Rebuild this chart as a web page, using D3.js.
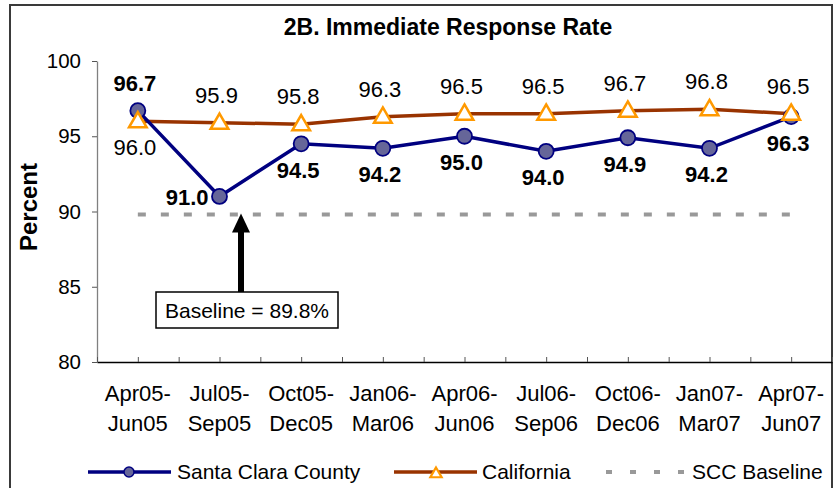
<!DOCTYPE html>
<html>
<head>
  <meta charset="utf-8">
  <title>2B. Immediate Response Rate</title>
  <style>
    body { margin: 0; background: #fff; }
    svg text { font-family: "Liberation Sans", Arial, sans-serif; }
  </style>
</head>
<body>
  <div id="chart"></div>

  <script src="https://d3js.org/d3.v7.min.js"></script>
  <script>
    // data
    var periodStart = ["Apr05-", "Jul05-", "Oct05-", "Jan06-", "Apr06-", "Jul06-", "Oct06-", "Jan07-", "Apr07-"];
    var periodEnd   = ["Jun05", "Sep05", "Dec05", "Mar06", "Jun06", "Sep06", "Dec06", "Mar07", "Jun07"];
    var sccValues = [96.7, 91.0, 94.5, 94.2, 95.0, 94.0, 94.9, 94.2, 96.3];
    var caValues  = [96.0, 95.9, 95.8, 96.3, 96.5, 96.5, 96.7, 96.8, 96.5];
    var sccBaseline = 89.8;
    var yTicks = [80, 85, 90, 95, 100];

    // where each data label sits relative to its marker
    var sccLabelPos = ["above", "left", "below", "below", "below", "below", "below", "below", "below"];
    var caLabelPos  = ["below", "above", "above", "above", "above", "above", "above", "above", "above"];

    var W = 835, H = 488;
    var plot = {left: 97, right: 832, top: 61, bottom: 362};

    var svg = d3.select("#chart").append("svg")
        .attr("width", W)
        .attr("height", H);

    svg.append("rect")
        .attr("width", W).attr("height", H)
        .attr("fill", "#fff");

    // outer frame of the chart
    svg.append("rect")
        .attr("x", 10).attr("y", 5)
        .attr("width", 822).attr("height", 500)
        .attr("fill", "none")
        .attr("stroke", "#3a3a3a")
        .attr("stroke-width", 2);

    var x = d3.scaleLinear()
        .domain([-0.5, periodStart.length - 0.5])
        .range([plot.left, plot.right]);

    var y = d3.scaleLinear()
        .domain([80, 100])
        .range([plot.bottom, plot.top]);

    // title
    svg.append("text")
        .attr("x", 448).attr("y", 35)
        .attr("text-anchor", "middle")
        .attr("font-size", 23)
        .attr("font-weight", "bold")
        .text("2B. Immediate Response Rate");

    // y axis title
    svg.append("text")
        .attr("transform", "translate(37,207) rotate(-90)")
        .attr("text-anchor", "middle")
        .attr("font-size", 24)
        .attr("font-weight", "bold")
        .text("Percent");

    // y axis
    var yAxis = svg.append("g")
        .attr("transform", "translate(" + plot.left + ",0)")
        .call(d3.axisLeft(y).tickValues(yTicks).tickSize(5).tickPadding(11).tickSizeOuter(0));
    yAxis.select(".domain").attr("stroke", "#808080").attr("stroke-width", 1.3);
    yAxis.selectAll(".tick line").attr("stroke", "#555");
    yAxis.selectAll(".tick text")
        .attr("font-size", 20.5)
        .attr("fill", "#000")
        .style("font-family", "'Liberation Sans', Arial, sans-serif");

    // x axis: ticks at every half category, pointing up
    var xAxis = svg.append("g")
        .attr("transform", "translate(0," + plot.bottom + ")")
        .call(d3.axisBottom(x).tickValues(d3.range(-0.5, periodStart.length, 0.5)).tickSize(-5).tickSizeOuter(0).tickFormat(""));
    xAxis.select(".domain").attr("stroke", "#000").attr("stroke-width", 1.5);
    xAxis.selectAll(".tick line").attr("stroke", "#555");

    var xLabels = svg.append("g").selectAll("text")
        .data(periodStart)
        .enter().append("text")
        .attr("text-anchor", "middle")
        .attr("font-size", 22)
        .attr("fill", "#000");
    xLabels.append("tspan")
        .attr("x", function(d, i) { return x(i); })
        .attr("y", 401)
        .text(function(d) { return d; });
    xLabels.append("tspan")
        .attr("x", function(d, i) { return x(i); })
        .attr("y", 431)
        .text(function(d, i) { return periodEnd[i]; });

    // baseline (dashed)
    svg.append("line")
        .attr("x1", x(0)).attr("x2", x(periodStart.length - 1))
        .attr("y1", y(sccBaseline)).attr("y2", y(sccBaseline))
        .attr("stroke", "#999")
        .attr("stroke-width", 4)
        .attr("stroke-dasharray", "8,15");

    // arrow pointing at the baseline
    var arrowX = 241;
    svg.append("line")
        .attr("x1", arrowX).attr("x2", arrowX)
        .attr("y1", y(sccBaseline) + 16).attr("y2", 292)
        .attr("stroke", "#000")
        .attr("stroke-width", 6);
    svg.append("path")
        .attr("d", "M" + arrowX + "," + (y(sccBaseline) - 1) +
                   " L" + (arrowX - 9) + "," + (y(sccBaseline) + 18) +
                   " L" + (arrowX + 9) + "," + (y(sccBaseline) + 18) + " Z")
        .attr("fill", "#000");

    svg.append("rect")
        .attr("x", 156).attr("y", 292)
        .attr("width", 182).attr("height", 36)
        .attr("fill", "#fff")
        .attr("stroke", "#000")
        .attr("stroke-width", 1.5);
    svg.append("text")
        .attr("x", 247).attr("y", 318)
        .attr("text-anchor", "middle")
        .attr("font-size", 21)
        .text("Baseline = " + sccBaseline.toFixed(1) + "%");

    // lines
    var line = d3.line()
        .x(function(d, i) { return x(i); })
        .y(function(d) { return y(d); });

    svg.append("path")
        .datum(caValues)
        .attr("d", line)
        .attr("fill", "none")
        .attr("stroke", "#993300")
        .attr("stroke-width", 3.5);

    svg.append("path")
        .datum(sccValues)
        .attr("d", line)
        .attr("fill", "none")
        .attr("stroke", "#000080")
        .attr("stroke-width", 3.5);

    // markers
    svg.append("g").selectAll("circle")
        .data(sccValues)
        .enter().append("circle")
        .attr("cx", function(d, i) { return x(i); })
        .attr("cy", function(d) { return y(d); })
        .attr("r", 7.5)
        .attr("fill", "#666699")
        .attr("stroke", "#000080")
        .attr("stroke-width", 1.8);

    var tri = d3.symbol().type(d3.symbolTriangle).size(135);
    svg.append("g").selectAll("path")
        .data(caValues)
        .enter().append("path")
        .attr("d", tri)
        .attr("transform", function(d, i) { return "translate(" + x(i) + "," + (y(d) + 1) + ")"; })
        .attr("fill", "#fff")
        .attr("stroke", "#ff9900")
        .attr("stroke-width", 2.5);

    // data labels
    function placeLabel(sel, values, pos) {
      sel.attr("x", function(d, i) {
            if (pos[i] === "left") return x(i) - 11;
            return x(i) - 3;
          })
          .attr("y", function(d, i) {
            var p = y(d);
            if (pos[i] === "above") return p - 20;
            if (pos[i] === "below") return p + 34;
            return p + 9;
          })
          .attr("text-anchor", function(d, i) { return pos[i] === "left" ? "end" : "middle"; })
          .text(function(d) { return d.toFixed(1); });
    }

    svg.append("g").selectAll("text")
        .data(sccValues)
        .enter().append("text")
        .attr("font-size", 22)
        .attr("font-weight", "bold")
        .call(placeLabel, sccValues, sccLabelPos);

    svg.append("g").selectAll("text")
        .data(caValues)
        .enter().append("text")
        .attr("font-size", 22)
        .call(placeLabel, caValues, caLabelPos);

    // legend
    var ly = 472;
    var legend = svg.append("g");

    legend.append("line")
        .attr("x1", 88).attr("x2", 171).attr("y1", ly).attr("y2", ly)
        .attr("stroke", "#000080").attr("stroke-width", 3.5);
    legend.append("circle")
        .attr("cx", 129).attr("cy", ly).attr("r", 5)
        .attr("fill", "#666699").attr("stroke", "#000080").attr("stroke-width", 1.5);
    legend.append("text")
        .attr("x", 177).attr("y", ly + 7)
        .attr("font-size", 21)
        .text("Santa Clara County");

    legend.append("line")
        .attr("x1", 394).attr("x2", 477).attr("y1", ly).attr("y2", ly)
        .attr("stroke", "#993300").attr("stroke-width", 3.5);
    legend.append("path")
        .attr("d", d3.symbol().type(d3.symbolTriangle).size(55))
        .attr("transform", "translate(436," + (ly + 2) + ")")
        .attr("fill", "#fff").attr("stroke", "#ff9900").attr("stroke-width", 2.2);
    legend.append("text")
        .attr("x", 482).attr("y", ly + 7)
        .attr("font-size", 21)
        .text("California");

    legend.append("line")
        .attr("x1", 606).attr("x2", 687).attr("y1", ly).attr("y2", ly)
        .attr("stroke", "#999").attr("stroke-width", 4)
        .attr("stroke-dasharray", "6,18");
    legend.append("text")
        .attr("x", 692).attr("y", ly + 7)
        .attr("font-size", 21)
        .text("SCC Baseline");
  </script>
</body>
</html>
